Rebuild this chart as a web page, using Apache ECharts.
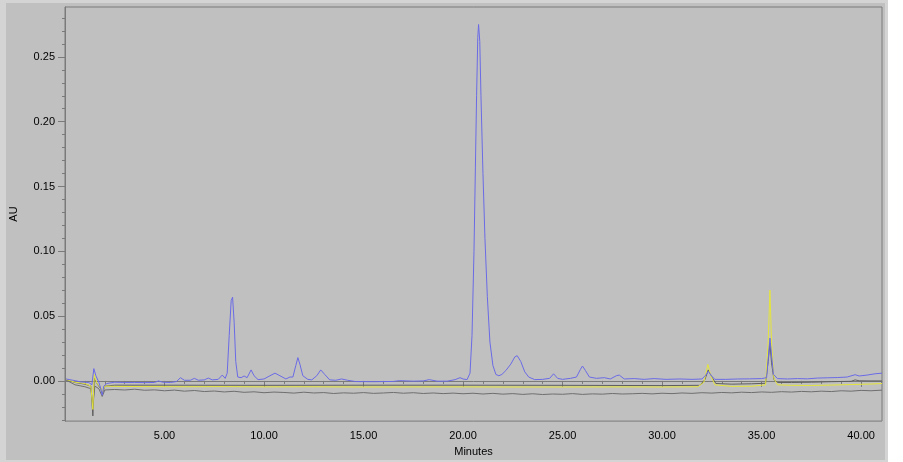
<!DOCTYPE html>
<html>
<head>
<meta charset="utf-8">
<script src="https://cdn.jsdelivr.net/npm/echarts@6/dist/echarts.min.js"></script>
<style>
  body { margin: 0; background: #fff; }
  #outer { position: absolute; left: 0; top: 0; width: 888px; height: 462px; background: #d4d4d4; }
  #inner { position: absolute; left: 6px; top: 3px; width: 879px; height: 457px; background: #c0c0c0; }
  #chart { position: absolute; left: 0; top: 0; width: 903px; height: 462px; }
</style>
</head>
<body>
<div id="outer"></div>
<div id="inner"></div>
<div id="chart"></div>
<script>
// axis ticks and labels
const xMajor = [5, 10, 15, 20, 25, 30, 35, 40]
const xMinor = [1, 2, 3, 4, 6, 7, 8, 9, 11, 12, 13, 14, 16, 17, 18, 19, 21, 22, 23, 24, 26, 27, 28, 29, 31, 32, 33, 34, 36, 37, 38, 39, 41]
const yMajor = [0, 0.05, 0.10, 0.15, 0.20, 0.25]
const yMinor = [-0.03, -0.02, -0.01, 0.01, 0.02, 0.03, 0.04, 0.06, 0.07, 0.08, 0.09, 0.11, 0.12, 0.13, 0.14, 0.16, 0.17, 0.18, 0.19, 0.21, 0.22, 0.23, 0.24, 0.26, 0.27, 0.28]

// blue trace
const blueTime = [0.05, 0.4, 0.8, 1.2, 1.35, 1.45, 1.55, 1.7, 1.8, 1.87, 1.95, 2.1, 2.5, 3.0, 3.5, 4.0, 4.5, 4.7, 4.9, 5.3, 5.6, 5.8, 6.0, 6.3, 6.5, 6.7, 7.0, 7.2, 7.4, 7.7, 7.9, 8.05, 8.15, 8.25, 8.35, 8.42, 8.5, 8.58, 8.68, 8.85, 9.0, 9.15, 9.35, 9.5, 9.7, 10.0, 10.3, 10.55, 10.8, 11.1, 11.3, 11.45, 11.6, 11.7, 11.8, 11.95, 12.2, 12.4, 12.65, 12.85, 13.05, 13.3, 13.6, 13.9, 14.2, 14.6, 15.5, 16.5, 16.8, 17.5, 18.0, 18.3, 18.7, 19.2, 19.6, 19.85, 20.0, 20.2, 20.35, 20.45, 20.55, 20.62, 20.68, 20.74, 20.78, 20.84, 20.9, 21.0, 21.1, 21.22, 21.35, 21.5, 21.65, 21.8, 21.95, 22.15, 22.4, 22.6, 22.72, 22.9, 23.1, 23.3, 23.6, 24.0, 24.35, 24.55, 24.75, 25.0, 25.4, 25.7, 25.9, 26.0, 26.15, 26.35, 26.7, 27.1, 27.4, 27.7, 27.85, 28.1, 28.6, 29.1, 29.6, 30.2, 30.9, 31.5, 32.0, 32.2, 32.32, 32.45, 32.65, 33.2, 33.8, 34.4, 35.0, 35.25, 35.35, 35.42, 35.5, 35.6, 35.8, 36.3, 36.8, 37.3, 37.8, 38.3, 38.8, 39.3, 39.7, 39.9, 40.3, 40.7, 41.05]
const blueAU = [0.0015, 0.0005, -0.0008, -0.0012, -0.003, 0.0095, 0.004, -0.001, -0.006, -0.011, -0.004, -0.002, -0.001, -0.0012, -0.0012, -0.0013, -0.0012, 0.0, -0.001, -0.0012, -0.0005, 0.0025, 0.0005, 0.0005, 0.002, 0.0005, 0.0008, 0.0022, 0.0008, 0.0012, 0.0045, 0.002, 0.006, 0.035, 0.062, 0.0646, 0.045, 0.015, 0.003, 0.0025, 0.0038, 0.0025, 0.0085, 0.004, 0.001, 0.0015, 0.004, 0.006, 0.004, 0.0015, 0.003, 0.003, 0.012, 0.018, 0.013, 0.004, 0.0012, 0.0008, 0.004, 0.0085, 0.005, 0.0008, 0.0005, 0.0015, 0.0005, -0.0005, -0.0006, -0.0004, 0.0002, -0.0002, 0.0, 0.001, -0.0002, -0.0002, 0.001, 0.0025, 0.0015, 0.001, 0.006, 0.035, 0.1, 0.165, 0.22, 0.265, 0.275, 0.262, 0.22, 0.16, 0.11, 0.065, 0.03, 0.012, 0.005, 0.004, 0.005, 0.008, 0.013, 0.0185, 0.0195, 0.015, 0.007, 0.003, 0.001, 0.0012, 0.002, 0.0055, 0.002, 0.0012, 0.002, 0.003, 0.009, 0.0115, 0.008, 0.003, 0.002, 0.0025, 0.0015, 0.004, 0.0045, 0.0015, 0.0018, 0.0012, 0.0018, 0.0012, 0.0015, 0.0012, 0.0015, 0.0045, 0.0075, 0.0045, 0.0012, 0.0012, 0.0015, 0.0016, 0.0018, 0.0025, 0.02, 0.033, 0.02, 0.005, 0.0018, 0.0015, 0.0018, 0.0016, 0.0022, 0.0024, 0.0026, 0.003, 0.0048, 0.0038, 0.0045, 0.0055, 0.006]

// yellow trace
const yellowTime = [0.05, 0.5, 1.0, 1.3, 1.4, 1.47, 1.6, 1.8, 1.87, 2.0, 2.5, 4, 6, 8, 10, 12, 15, 18, 20, 22, 25, 28, 30, 31.8, 32.1, 32.3, 32.45, 32.65, 33.5, 34.5, 35.2, 35.33, 35.42, 35.5, 35.62, 35.8, 36.5, 37.5, 38.5, 39.5, 40.5, 41.05]
const yellowAU = [0.0012, -0.001, -0.002, -0.004, -0.022, 0.005, -0.002, -0.005, -0.009, -0.004, -0.0042, -0.0044, -0.0045, -0.0044, -0.0046, -0.0045, -0.0047, -0.0046, -0.0046, -0.0047, -0.0047, -0.0046, -0.0047, -0.0045, -0.001, 0.0127, 0.004, -0.003, -0.0042, -0.0041, -0.003, 0.03, 0.07, 0.03, 0.002, -0.003, -0.0034, -0.0035, -0.0032, -0.0028, -0.0024, -0.002]

// dark grey trace
const darkTime = [0.05, 0.5, 1.0, 1.3, 1.4, 1.48, 1.6, 1.8, 1.88, 2.0, 2.5, 5, 10, 15, 20, 25, 30, 31.9, 32.15, 32.32, 32.5, 32.7, 33.5, 34.5, 35.2, 35.33, 35.42, 35.5, 35.62, 35.8, 36.5, 37.5, 38.5, 39.5, 39.7, 39.9, 40.5, 41.05]
const darkAU = [0.001, -0.0012, -0.0025, -0.004, -0.027, 0.002, -0.002, -0.006, -0.01, -0.004, -0.0033, -0.0033, -0.0034, -0.0033, -0.0033, -0.0034, -0.0036, -0.0034, 0.001, 0.0085, 0.003, -0.002, -0.0025, -0.0022, -0.0018, 0.015, 0.029, 0.014, 0.001, -0.0012, -0.0012, -0.001, -0.0006, -0.0003, 0.0008, 0.0001, 0.0, 0.0]

// grey (noisy, lowest) trace
const greyTime = [0.05, 0.5, 1.0, 1.3, 1.4, 1.5, 1.7, 1.87, 2.0, 2.5, 3.0, 3.5, 4.0, 4.5, 5.0, 5.5, 6.0, 6.5, 7.0, 7.5, 8.0, 8.5, 9.0, 9.5, 10.0, 10.5, 11.0, 11.5, 12.0, 12.5, 13.0, 13.5, 14.0, 14.5, 15.0, 15.5, 16.0, 16.5, 17.0, 17.5, 18.0, 18.5, 19.0, 19.5, 20.0, 20.5, 21.0, 21.5, 22.0, 22.5, 23.0, 23.5, 24.0, 24.5, 25.0, 25.5, 26.0, 26.5, 27.0, 27.5, 28.0, 28.5, 29.0, 29.5, 30.0, 30.5, 31.0, 31.5, 32.0, 32.5, 33.0, 33.5, 34.0, 34.5, 35.0, 35.5, 36.0, 36.5, 37.0, 37.5, 38.0, 38.5, 39.0, 39.5, 40.0, 40.5, 41.05]
const greyAU = [0.0008, -0.003, -0.0045, -0.006, -0.018, -0.004, -0.006, -0.012, -0.007, -0.0066, -0.0070, -0.0064, -0.0072, -0.0069, -0.0076, -0.0071, -0.0079, -0.0074, -0.0082, -0.0078, -0.0085, -0.0080, -0.0088, -0.0084, -0.0091, -0.0086, -0.0089, -0.0094, -0.0087, -0.0093, -0.0090, -0.0097, -0.0092, -0.0095, -0.0090, -0.0096, -0.0093, -0.0089, -0.0095, -0.0091, -0.0097, -0.0093, -0.0098, -0.0094, -0.0099, -0.0095, -0.0101, -0.0096, -0.0102, -0.0098, -0.0104, -0.0099, -0.0105, -0.0101, -0.0103, -0.0098, -0.0104, -0.0100, -0.0102, -0.0097, -0.0101, -0.0099, -0.0096, -0.0100, -0.0095, -0.0098, -0.0093, -0.0096, -0.0091, -0.0094, -0.0089, -0.0092, -0.0087, -0.0090, -0.0085, -0.0088, -0.0083, -0.0086, -0.0081, -0.0084, -0.0079, -0.0082, -0.0076, -0.0079, -0.0073, -0.0076, -0.0071]

const zip = (xs, ys) => xs.map((x, i) => [x, ys[i]])

const chart = echarts.init(document.getElementById('chart'))

const font = 'Liberation Sans, Arial, sans-serif'
const axisColor = '#7a7a7a'

const line = (name, t, v, color) => ({
  name,
  type: 'line',
  data: zip(t, v),
  showSymbol: false,
  symbol: 'none',
  lineStyle: { color, width: 1 },
  itemStyle: { color },
  animation: false
})

chart.setOption({
  backgroundColor: 'transparent',
  animation: false,
  grid: {
    left: 64, right: 21, top: 7, bottom: 39,
    show: true, borderColor: axisColor, borderWidth: 1, backgroundColor: 'transparent'
  },
  xAxis: [
    {
      type: 'value', min: 0, max: 41.05, position: 'bottom',
      name: 'Minutes', nameLocation: 'middle', nameGap: 24,
      nameTextStyle: { fontFamily: font, fontSize: 11, color: '#000' },
      axisLine: { show: true, lineStyle: { color: axisColor } },
      axisTick: { show: true, customValues: xMajor, length: 6, lineStyle: { color: axisColor } },
      axisLabel: { customValues: xMajor, formatter: v => v.toFixed(2), fontFamily: font, fontSize: 11, color: '#000', margin: 9 },
      splitLine: { show: false }
    },
    {
      type: 'value', min: 0, max: 41.05, position: 'bottom',
      axisLine: { show: false },
      axisTick: { show: true, customValues: xMinor, length: 3, lineStyle: { color: axisColor } },
      axisLabel: { show: false },
      splitLine: { show: false }
    }
  ],
  yAxis: [
    {
      type: 'value', min: -0.031, max: 0.2885, position: 'left',
      name: 'AU', nameLocation: 'middle', nameGap: 46, nameRotate: 90,
      nameTextStyle: { fontFamily: font, fontSize: 11, color: '#000' },
      axisLine: { show: true, lineStyle: { color: axisColor } },
      axisTick: { show: true, customValues: yMajor, length: 7, lineStyle: { color: axisColor } },
      axisLabel: { customValues: yMajor, formatter: v => v.toFixed(2), fontFamily: font, fontSize: 11, color: '#000', margin: 10 },
      splitLine: { show: false }
    },
    {
      type: 'value', min: -0.031, max: 0.2885, position: 'left',
      axisLine: { show: false },
      axisTick: { show: true, customValues: yMinor, length: 3, lineStyle: { color: axisColor } },
      axisLabel: { show: false },
      splitLine: { show: false }
    }
  ],
  series: [
    line('grey', greyTime, greyAU, '#6e6e6e'),
    line('dark', darkTime, darkAU, '#5e5e5e'),
    line('yellow', yellowTime, yellowAU, '#e4e43c'),
    line('blue', blueTime, blueAU, '#6a6ae6')
  ]
})
</script>
</body>
</html>
